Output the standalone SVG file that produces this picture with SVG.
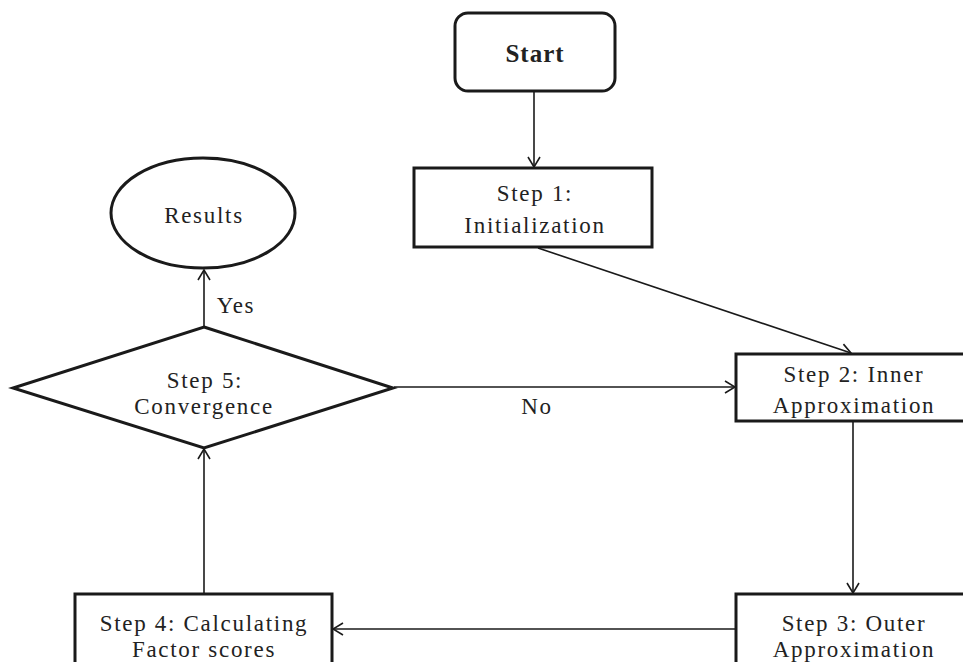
<svg xmlns="http://www.w3.org/2000/svg" width="963" height="662" viewBox="0 0 963 662">
  <style>
    .shape { fill: #ffffff; stroke: #1a1a1a; stroke-width: 3; }
    .conn { fill: none; stroke: #1a1a1a; stroke-width: 1.6; }
    .lbl { font-family: "Liberation Serif", "Times New Roman", serif; font-size: 23px; letter-spacing: 1.7px; fill: #222222; text-anchor: middle; }
    .title { font-family: "Liberation Serif", "Times New Roman", serif; font-size: 25px; font-weight: bold; letter-spacing: 1px; fill: #222222; text-anchor: middle; }
  </style>
  <defs>
    <marker id="arrow" viewBox="0 0 12 14" refX="11" refY="7" markerWidth="12" markerHeight="14" markerUnits="userSpaceOnUse" orient="auto">
      <path d="M1,1 L11,7 L1,13" fill="none" stroke="#1a1a1a" stroke-width="1.6"/>
    </marker>
  </defs>

  <rect width="963" height="662" fill="#ffffff"/>

  <g id="connectors">
    <line class="conn" x1="534" y1="91" x2="534" y2="167" marker-end="url(#arrow)"/>
    <line class="conn" x1="538" y1="248" x2="851" y2="353" marker-end="url(#arrow)"/>
    <line class="conn" x1="394" y1="387" x2="735" y2="387" marker-end="url(#arrow)"/>
    <line class="conn" x1="853" y1="421" x2="853" y2="593" marker-end="url(#arrow)"/>
    <line class="conn" x1="736" y1="629" x2="333" y2="629" marker-end="url(#arrow)"/>
    <line class="conn" x1="204" y1="594" x2="204" y2="449" marker-end="url(#arrow)"/>
    <line class="conn" x1="204" y1="327" x2="204" y2="270" marker-end="url(#arrow)"/>
    <text class="lbl" x="537" y="414">No</text>
    <text class="lbl" x="236" y="313">Yes</text>
  </g>

  <g id="start">
    <rect class="shape" x="455" y="13" width="160" height="78" rx="13" ry="13"/>
    <text class="title" x="535" y="62">Start</text>
  </g>

  <g id="step1">
    <rect class="shape" x="414" y="168" width="238" height="79"/>
    <text class="lbl" x="535" y="201">Step 1:</text>
    <text class="lbl" x="535" y="233">Initialization</text>
  </g>

  <g id="step2">
    <rect class="shape" x="736" y="354" width="240" height="67"/>
    <text class="lbl" x="854" y="382">Step 2: Inner</text>
    <text class="lbl" x="854" y="413">Approximation</text>
  </g>

  <g id="step3">
    <rect class="shape" x="736" y="594" width="240" height="80"/>
    <text class="lbl" x="854" y="631">Step 3: Outer</text>
    <text class="lbl" x="854" y="657">Approximation</text>
  </g>

  <g id="step4">
    <rect class="shape" x="75" y="594" width="257" height="80"/>
    <text class="lbl" x="204" y="631">Step 4: Calculating</text>
    <text class="lbl" x="204" y="657">Factor scores</text>
  </g>

  <g id="step5">
    <polygon class="shape" points="204,327 393,388 204,448 13,388"/>
    <text class="lbl" x="205" y="388">Step 5:</text>
    <text class="lbl" x="204" y="414">Convergence</text>
  </g>

  <g id="results">
    <ellipse class="shape" cx="203" cy="213" rx="92" ry="55"/>
    <text class="lbl" x="204" y="223">Results</text>
  </g>
</svg>
